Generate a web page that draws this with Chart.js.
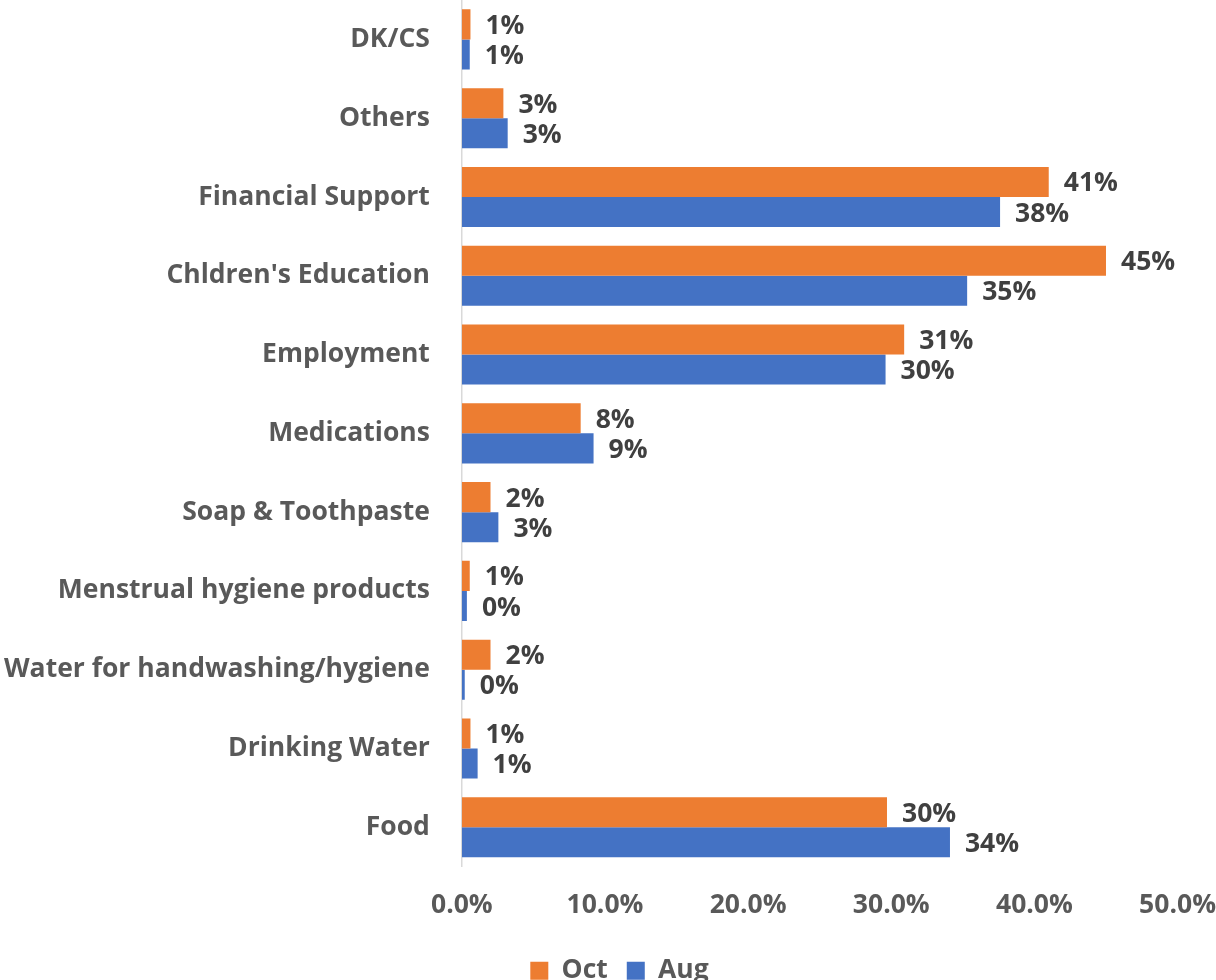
<!DOCTYPE html>
<html>
<head>
<meta charset="utf-8">
<script src="https://cdn.jsdelivr.net/npm/chart.js@4/dist/chart.umd.min.js"></script>
<style>
  html, body { margin: 0; padding: 0; background: #fff; overflow: hidden; }
  #wrap { position: relative; width: 1216px; height: 994px; }
</style>
</head>
<body>
<div id="wrap"><canvas id="chart"></canvas></div>
<script>
const categories = [
  'DK/CS',
  'Others',
  'Financial Support',
  "Chldren's Education",
  'Employment',
  'Medications',
  'Soap & Toothpaste',
  'Menstrual hygiene products',
  'Water for handwashing/hygiene',
  'Drinking Water',
  'Food',
];
const octValues = [0.6, 2.9, 41.0, 45.0, 30.9, 8.3, 2.0, 0.55, 2.0, 0.6, 29.7];
const augValues = [0.55, 3.2, 37.6, 35.3, 29.6, 9.2, 2.55, 0.35, 0.2, 1.1, 34.1];
const xTicks = [0, 10, 20, 30, 40, 50];

const FONT = "'Open Sans', 'DejaVu Sans', sans-serif";
const SIZE = 26.5;
const GREY = '#595959';

// value labels at the end of each bar
const barLabels = {
  id: 'barLabels',
  afterDatasetsDraw(chart) {
    const ctx = chart.ctx;
    ctx.save();
    ctx.font = `bold ${SIZE}px ${FONT}`;
    ctx.fillStyle = '#404040';
    ctx.textAlign = 'left';
    ctx.textBaseline = 'middle';
    chart.data.datasets.forEach((ds, i) => {
      chart.getDatasetMeta(i).data.forEach((bar, j) => {
        ctx.fillText(Math.round(ds.data[j]) + '%', bar.x + 15, bar.y + 2);
      });
    });
    ctx.restore();
  },
};

// nudge the legend a little right of the canvas centre
const legendNudge = {
  id: 'legendNudge',
  afterLayout(chart) {
    if (!chart.legend) return;
    chart.legend.left += 12;
    chart.legend.right += 12;
  },
};

new Chart(document.getElementById('chart'), {
  type: 'bar',
  data: {
    labels: categories,
    datasets: [
      { label: 'Oct', data: octValues, backgroundColor: '#ED7D31' },
      { label: 'Aug', data: augValues, backgroundColor: '#4472C4' },
    ],
  },
  options: {
    indexAxis: 'y',
    responsive: true,
    maintainAspectRatio: false,
    animation: false,
    categoryPercentage: 0.763,
    barPercentage: 1.0,
    layout: { padding: { top: 0, right: 5, left: 4, bottom: 0 } },
    plugins: {
      legend: {
        position: 'bottom',
        labels: {
          color: GREY,
          font: { family: FONT, size: SIZE, weight: 'bold' },
          boxWidth: 18,
          boxHeight: 18,
          padding: 19,
        },
      },
      tooltip: { enabled: false },
    },
    scales: {
      x: {
        min: 0,
        max: 50,
        afterBuildTicks: s => { s.ticks = xTicks.map(v => ({ value: v })); },
        grid: { display: false, drawTicks: true, tickLength: 23 },
        border: { display: false },
        title: { display: true, text: '', font: { size: 1, lineHeight: 1 }, padding: { top: 4, bottom: 12 } },
        ticks: {
          color: GREY,
          padding: 0,
          font: { family: FONT, size: SIZE, weight: 'bold' },
          callback: v => v.toFixed(1) + '%',
        },
      },
      y: {
        grid: { display: false, drawTicks: true, tickLength: 32 },
        border: { display: true, color: '#D9D9D9', width: 1.5 },
        afterFit: s => { s.paddingTop = 0; s.paddingBottom = 0; },
        ticks: {
          color: GREY,
          padding: 0,
          autoSkip: false,
          font: { family: FONT, size: SIZE, weight: 'bold' },
        },
      },
    },
  },
  plugins: [barLabels, legendNudge],
});
</script>
</body>
</html>
